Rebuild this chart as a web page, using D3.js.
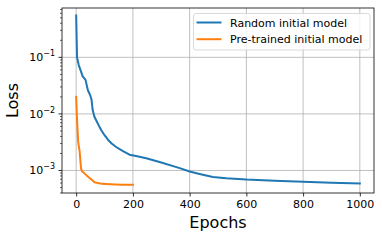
<!DOCTYPE html>
<html>
<head>
<meta charset="utf-8">
<script src="https://cdn.jsdelivr.net/npm/d3@7"></script>
<style>
  body { margin: 0; background: #fff; }
  svg { display: block; font-family: "DejaVu Sans", sans-serif; }
</style>
</head>
<body>
<script>
// データ
var randomEpochs = [0, 3, 9, 23, 33, 41, 50, 54, 58, 64, 70, 80, 88, 100, 112, 125, 141, 165, 188, 215, 247, 300, 365, 400, 435, 482, 529, 600, 700, 800, 900, 1000];
var randomLoss = [0.55, 0.10, 0.073, 0.046, 0.040, 0.0265, 0.021, 0.018, 0.0118, 0.0090, 0.0078, 0.0062, 0.0052, 0.0042, 0.0035, 0.0030, 0.0026, 0.0022, 0.0019, 0.00178, 0.00164, 0.00138, 0.00110, 0.00096, 0.00087, 0.00077, 0.00073, 0.00069, 0.00066, 0.00063, 0.00061, 0.00059];
var pretrainedEpochs = [0, 3, 7, 12, 17, 20, 30, 45, 65, 90, 120, 160, 200];
var pretrainedLoss = [0.020, 0.008, 0.0032, 0.0022, 0.0011, 0.00098, 0.00088, 0.00075, 0.00062, 0.00058, 0.00057, 0.00056, 0.00056];
var seriesNames = ["Random initial model", "Pre-trained initial model"];
var seriesColors = ["#1f77b4", "#ff7f0e"];
var xTicks = [0, 200, 400, 600, 800, 1000];
var yTicks = [1e-3, 1e-2, 1e-1];
var yExponents = ["−3", "−2", "−1"];

var width = 382, height = 240;
var margin = { left: 62, top: 8, right: 8, bottom: 47 };
var plotW = width - margin.left - margin.right;
var plotH = height - margin.top - margin.bottom;

var svg = d3.select("body").append("svg")
    .attr("width", width)
    .attr("height", height);

var x = d3.scaleLinear().domain([-50, 1050]).range([0, plotW]);
var y = d3.scaleLog().domain([4.0e-4, 0.745]).range([plotH, 0]);

var g = svg.append("g").attr("transform", "translate(" + margin.left + "," + margin.top + ")");

// グリッド
g.selectAll(".xgrid").data(xTicks).enter().append("line")
    .attr("x1", d => x(d)).attr("x2", d => x(d))
    .attr("y1", 0).attr("y2", plotH)
    .attr("stroke", "#b0b0b0").attr("stroke-width", 0.8);
g.selectAll(".ygrid").data(yTicks).enter().append("line")
    .attr("x1", 0).attr("x2", plotW)
    .attr("y1", d => y(d)).attr("y2", d => y(d))
    .attr("stroke", "#b0b0b0").attr("stroke-width", 0.8);

// 線
var line = d3.line().x(d => x(d[0])).y(d => y(d[1]));
var series = [
    d3.zip(randomEpochs, randomLoss),
    d3.zip(pretrainedEpochs, pretrainedLoss)
];
g.selectAll(".series").data(series).enter().append("path")
    .attr("d", line)
    .attr("fill", "none")
    .attr("stroke", (d, i) => seriesColors[i])
    .attr("stroke-width", 2)
    .attr("stroke-linejoin", "round")
    .attr("stroke-linecap", "square");

// X軸
var xAxis = g.append("g").attr("transform", "translate(0," + plotH + ")")
    .call(d3.axisBottom(x).tickValues(xTicks).tickSize(3.5).tickPadding(3.5).tickFormat(d3.format("d")));
xAxis.select(".domain").remove();
xAxis.selectAll("text").attr("font-size", 11).attr("fill", "#000").attr("font-family", "DejaVu Sans");
xAxis.selectAll("line").attr("stroke", "#000").attr("stroke-width", 0.8);

// Y軸（対数）
var minor = [];
[1e-4, 1e-3, 1e-2, 1e-1].forEach(function (base) {
    for (var k = 2; k <= 9; k++) {
        var v = base * k;
        if (v >= y.domain()[0] && v <= y.domain()[1]) minor.push(v);
    }
});
g.selectAll(".yminor").data(minor).enter().append("line")
    .attr("x1", -2).attr("x2", 0)
    .attr("y1", d => y(d)).attr("y2", d => y(d))
    .attr("stroke", "#000").attr("stroke-width", 0.6);
g.selectAll(".ymajor").data(yTicks).enter().append("line")
    .attr("x1", -3.5).attr("x2", 0)
    .attr("y1", d => y(d)).attr("y2", d => y(d))
    .attr("stroke", "#000").attr("stroke-width", 0.8);
var ylab = g.selectAll(".ylab").data(yTicks).enter().append("text")
    .attr("x", -7).attr("y", d => y(d) + 4)
    .attr("text-anchor", "end")
    .attr("font-size", 11);
ylab.append("tspan").text("10");
ylab.append("tspan").attr("dy", -5).attr("font-size", 8).text((d, i) => yExponents[i]);

// 枠線
g.append("rect").attr("width", plotW).attr("height", plotH)
    .attr("fill", "none").attr("stroke", "#000").attr("stroke-width", 0.8);

// 軸ラベル
svg.append("text")
    .attr("x", margin.left + plotW / 2).attr("y", 228)
    .attr("text-anchor", "middle").attr("font-size", 16)
    .text("Epochs");
svg.append("text")
    .attr("transform", "translate(18," + (margin.top + plotH / 2) + ") rotate(-90)")
    .attr("text-anchor", "middle").attr("font-size", 16)
    .text("Loss");

// 凡例
var lg = svg.append("g").attr("transform", "translate(193.5,13.5)");
lg.append("rect").attr("width", 176.5).attr("height", 36.5).attr("rx", 2.5)
    .attr("fill", "#fff").attr("fill-opacity", 0.8)
    .attr("stroke", "#d0d0d0").attr("stroke-width", 0.8);
var items = lg.selectAll(".item").data(seriesNames).enter().append("g")
    .attr("transform", (d, i) => "translate(0," + (9 + i * 16.7) + ")");
items.append("line").attr("x1", 3).attr("x2", 28)
    .attr("stroke", (d, i) => seriesColors[i]).attr("stroke-width", 2);
items.append("text").attr("x", 36.5).attr("y", 4)
    .attr("font-size", 11).text(d => d);
</script>
</body>
</html>
